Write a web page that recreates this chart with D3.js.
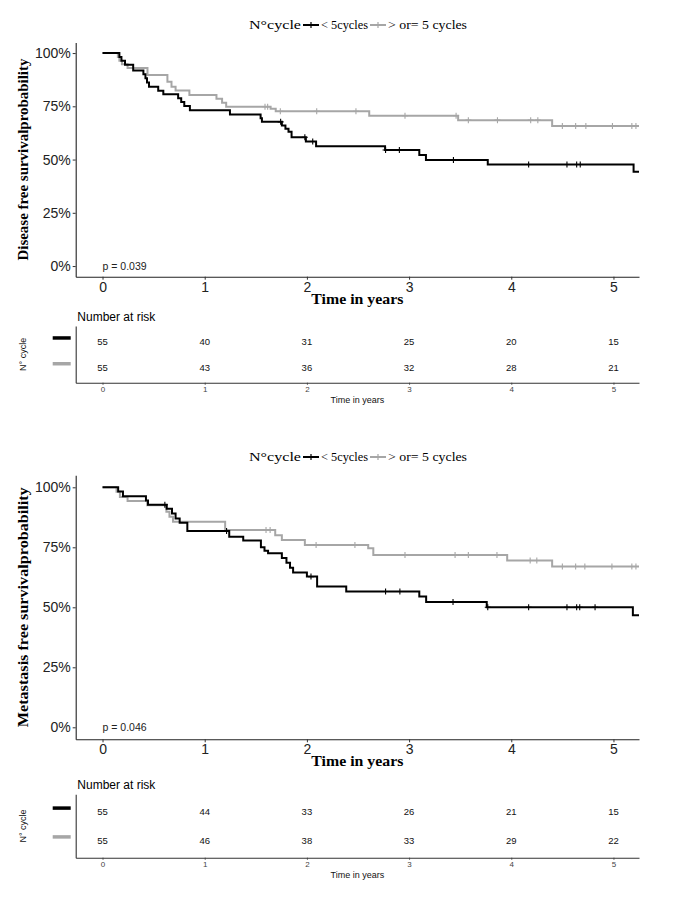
<!DOCTYPE html>
<html><head><meta charset="utf-8">
<script src="https://cdn.jsdelivr.net/npm/d3@7"></script>
<style>body{margin:0;background:#fff} svg{display:block}</style>
</head><body>
<svg id="c" width="673" height="902"></svg>
<script>
// ---------------- data ----------------
const groups = ["< 5cycles", "> or= 5 cycles"];
const legendTitle = "N°cycle";
const timeTicks = [0, 1, 2, 3, 4, 5];
const survTicks = [0, 0.25, 0.5, 0.75, 1];
const survTickLabels = ["0%", "25%", "50%", "75%", "100%"];
const timeMax = 5.25;

// Panel 1: Disease free survival
const dfsBlackTime = [0, 0.165, 0.185, 0.22, 0.30, 0.40, 0.42, 0.435, 0.455, 0.545, 0.595, 0.74, 0.77, 0.80, 0.855, 1.247, 1.547, 1.56, 1.755, 1.79, 1.82, 1.85, 1.99, 2.09, 2.765, 3.10, 3.165, 3.77, 5.197];
const dfsBlackSurv = [1, 0.982, 0.964, 0.945, 0.918, 0.900, 0.882, 0.862, 0.842, 0.823, 0.806, 0.788, 0.770, 0.751, 0.732, 0.712, 0.694, 0.677, 0.660, 0.645, 0.630, 0.605, 0.585, 0.563, 0.545, 0.521, 0.498, 0.477, 0.443];
const dfsBlackCensor = [1.743, 1.98, 2.057, 2.77, 2.905, 3.434, 4.17, 4.545, 4.64, 4.675];
const dfsGrayTime = [0, 0.15, 0.165, 0.19, 0.245, 0.44, 0.635, 0.675, 0.715, 0.85, 1.115, 1.17, 1.21, 1.645, 1.695, 2.61, 3.48, 4.40];
const dfsGraySurv = [1, 0.982, 0.964, 0.948, 0.930, 0.897, 0.865, 0.842, 0.824, 0.803, 0.785, 0.767, 0.748, 0.738, 0.727, 0.706, 0.685, 0.657];
const dfsGrayCensor = [1.59, 1.616, 1.74, 2.096, 2.48, 2.96, 3.46, 3.58, 3.865, 4.19, 4.26, 4.50, 4.63, 4.73, 4.99, 5.18, 5.22];
const dfsRiskBlack = [55, 40, 31, 25, 20, 15];
const dfsRiskGray = [55, 43, 36, 32, 28, 21];
const dfsPval = "p = 0.039";
const dfsYTitle = "Disease free survivalprobability";

// Panel 2: Metastasis free survival
const mfsBlackTime = [0, 0.153, 0.20, 0.425, 0.445, 0.628, 0.68, 0.715, 0.755, 0.83, 1.24, 1.377, 1.55, 1.585, 1.62, 1.755, 1.80, 1.835, 1.865, 2.0, 2.10, 2.385, 3.10, 3.167, 3.76, 5.19];
const mfsBlackSurv = [1, 0.982, 0.963, 0.945, 0.927, 0.911, 0.891, 0.870, 0.852, 0.818, 0.794, 0.778, 0.750, 0.736, 0.725, 0.705, 0.686, 0.665, 0.645, 0.628, 0.587, 0.566, 0.545, 0.522, 0.500, 0.467];
const mfsBlackCensor = [0.61, 1.214, 2.04, 2.77, 2.91, 3.43, 3.77, 4.17, 4.545, 4.64, 4.67, 4.82];
const mfsGrayTime = [0, 0.137, 0.17, 0.245, 0.437, 0.625, 0.655, 0.69, 1.20, 1.69, 1.755, 1.98, 2.60, 2.65, 3.96, 4.40];
const mfsGraySurv = [1, 0.981, 0.960, 0.943, 0.925, 0.898, 0.877, 0.856, 0.822, 0.800, 0.780, 0.760, 0.746, 0.718, 0.695, 0.670];
const mfsGrayCensor = [1.60, 1.64, 2.09, 2.47, 2.96, 3.45, 3.58, 3.86, 4.185, 4.25, 4.50, 4.63, 4.72, 4.985, 5.18, 5.22];
const mfsRiskBlack = [55, 44, 33, 26, 21, 15];
const mfsRiskGray = [55, 46, 38, 33, 29, 22];
const mfsPval = "p = 0.046";
const mfsYTitle = "Metastasis free survivalprobability";

// ---------------- style ----------------
const colors = ["#000000", "#a6a6a6"];
const SERIF = "'Liberation Serif','DejaVu Serif',serif";
const SANS = "'Liberation Sans',Arial,sans-serif";
const svg = d3.select("#c");

const x = d3.scaleLinear().domain([-0.2625, timeMax]).range([75.7, 639]);

function stepAt(times, surv, t) {
  let i = d3.bisectRight(times, t) - 1;
  return surv[Math.max(0, i)];
}

function drawPanel(cfg) {
  const y = d3.scaleLinear().domain([-0.05, 1.05]).range([cfg.y1, cfg.y0]);
  const g = svg.append("g");

  // legend
  const lg = g.append("g").attr("font-family", SERIF).attr("font-size", 12).attr("fill", "#000");
  const items = [
    {type: "text", txt: legendTitle, w: 52},
    {type: "key", c: colors[0]},
    {type: "text", txt: groups[0], w: 47},
    {type: "key", c: colors[1]},
    {type: "text", txt: groups[1], w: 79}
  ];
  let cx = 249;
  items.forEach(it => {
    if (it.type === "text") {
      lg.append("text").attr("x", cx).attr("y", cfg.legendY + 4).attr("textLength", it.w)
        .attr("lengthAdjust", "spacingAndGlyphs").text(it.txt);
      cx += it.w + 2;
    } else {
      lg.append("line").attr("x1", cx).attr("x2", cx + 16).attr("y1", cfg.legendY).attr("y2", cfg.legendY)
        .attr("stroke", it.c).attr("stroke-width", 2);
      lg.append("path").attr("d", `M${cx + 8},${cfg.legendY - 3}v6`).attr("stroke", it.c).attr("stroke-width", 1.2);
      cx += 18;
    }
  });

  // curves
  const clipId = "clip" + cfg.id;
  svg.append("clipPath").attr("id", clipId).append("rect")
    .attr("x", x.range()[0]).attr("y", cfg.y0 - 5).attr("width", x.range()[1] - x.range()[0]).attr("height", cfg.y1 - cfg.y0 + 5);
  const line = d3.line().x(d => x(d[0])).y(d => y(d[1])).curve(d3.curveStepAfter);
  const series = [
    {t: cfg.grayT, s: cfg.grayS, c: cfg.grayC, col: colors[1]},
    {t: cfg.blackT, s: cfg.blackS, c: cfg.blackC, col: colors[0]}
  ];
  const cg = g.append("g").attr("clip-path", `url(#${clipId})`);
  series.forEach(se => {
    const pts = se.t.map((t, i) => [t, se.s[i]]);
    pts.push([timeMax, se.s[se.s.length - 1]]);
    cg.append("path").datum(pts).attr("d", line).attr("fill", "none")
      .attr("stroke", se.col).attr("stroke-width", 2);
    cg.selectAll(null).data(se.c).enter().append("path")
      .attr("d", t => {
        const px = x(t), py = y(stepAt(se.t, se.s, t));
        return `M${px - 3},${py}h6M${px},${py - 3}v6`;
      })
      .attr("stroke", se.col).attr("stroke-width", 1.1);
  });

  // axes
  const ay = g.append("g").attr("transform", `translate(${x.range()[0]},0)`)
    .call(d3.axisLeft(y).tickValues(survTicks).tickFormat((d, i) => survTickLabels[i]).tickSize(3).tickSizeOuter(0).tickPadding(2));
  const ax = g.append("g").attr("transform", `translate(0,${cfg.y1})`)
    .call(d3.axisBottom(x).tickValues(timeTicks).tickFormat(d3.format("d")).tickSize(3).tickSizeOuter(0).tickPadding(2));
  [ax, ay].forEach(a => {
    a.select(".domain").attr("stroke", "#222").attr("stroke-width", 1.1);
    a.selectAll(".tick line").attr("stroke", "#333");
    a.selectAll("text").attr("font-family", SANS).attr("font-size", 14).attr("fill", "#222");
  });

  // p value
  g.append("text").attr("x", x(0)).attr("y", y(0) + 4).attr("font-family", SANS).attr("font-size", 10.5)
    .attr("fill", "#222").text(cfg.pval);

  // axis titles
  g.append("text").attr("transform", `translate(28,${(cfg.y0 + cfg.y1) / 2}) rotate(-90)`)
    .attr("text-anchor", "middle").attr("font-family", SERIF).attr("font-weight", "bold").attr("font-size", 14)
    .attr("textLength", cfg.yTitleLen).attr("lengthAdjust", "spacingAndGlyphs").text(cfg.yTitle);
  g.append("text").attr("x", (x.range()[0] + x.range()[1]) / 2).attr("y", cfg.y1 + 27)
    .attr("text-anchor", "middle").attr("font-family", SERIF).attr("font-weight", "bold").attr("font-size", 14)
    .attr("textLength", 92).attr("lengthAdjust", "spacingAndGlyphs").text("Time in years");

  // risk table
  const ry = d3.scalePoint().domain(groups).range([cfg.tTop, cfg.tBot]).padding(0.6);
  const tg = g.append("g");
  tg.append("text").attr("x", 77.3).attr("y", cfg.tTop - 5).attr("font-family", SANS).attr("font-size", 12)
    .attr("fill", "#000").text("Number at risk");
  tg.append("g").attr("transform", `translate(${x.range()[0]},0)`)
    .call(d3.axisLeft(ry).tickSize(0).tickFormat(""))
    .select(".domain").attr("stroke", "#333").attr("stroke-width", 1.1);
  const tax = tg.append("g").attr("transform", `translate(0,${cfg.tBot})`)
    .call(d3.axisBottom(x).tickValues(timeTicks).tickFormat(d3.format("d")).tickSize(2).tickSizeOuter(0).tickPadding(2));
  tax.select(".domain").attr("stroke", "#333").attr("stroke-width", 1.1);
  tax.selectAll("text").attr("font-family", SANS).attr("font-size", 8).attr("fill", "#444");
  tax.selectAll(".tick line").attr("stroke", "#444");
  const rows = [{g: groups[0], v: cfg.riskB, col: colors[0]}, {g: groups[1], v: cfg.riskG, col: colors[1]}];
  rows.forEach(r => {
    tg.selectAll(null).data(timeTicks).enter().append("text")
      .attr("x", d => x(d)).attr("y", ry(r.g) + 3.5).attr("text-anchor", "middle")
      .attr("font-family", SANS).attr("font-size", 9.5).attr("fill", "#111")
      .text((d, i) => r.v[i]);
    tg.append("line").attr("x1", 52.7).attr("x2", 70.7).attr("y1", ry(r.g) - 3.5).attr("y2", ry(r.g) - 3.5)
      .attr("stroke", r.col).attr("stroke-width", 3.5);
  });
  tg.append("text").attr("transform", `translate(26,${(cfg.tTop + cfg.tBot) / 2}) rotate(-90)`)
    .attr("text-anchor", "middle").attr("font-family", SANS).attr("font-size", 9).attr("fill", "#111").text("N° cycle");
  tg.append("text").attr("x", (x.range()[0] + x.range()[1]) / 2).attr("y", cfg.tBot + 20)
    .attr("text-anchor", "middle").attr("font-family", SANS).attr("font-size", 9).attr("fill", "#111").text("Time in years");
}

drawPanel({id: 1, y0: 42.4, y1: 276.7, legendY: 25, tTop: 326, tBot: 382.7,
  blackT: dfsBlackTime, blackS: dfsBlackSurv, blackC: dfsBlackCensor,
  grayT: dfsGrayTime, grayS: dfsGraySurv, grayC: dfsGrayCensor,
  riskB: dfsRiskBlack, riskG: dfsRiskGray, pval: dfsPval, yTitle: dfsYTitle, yTitleLen: 202});
drawPanel({id: 2, y0: 475.3, y1: 739.3, legendY: 457, tTop: 794.3, tBot: 857.7,
  blackT: mfsBlackTime, blackS: mfsBlackSurv, blackC: mfsBlackCensor,
  grayT: mfsGrayTime, grayS: mfsGraySurv, grayC: mfsGrayCensor,
  riskB: mfsRiskBlack, riskG: mfsRiskGray, pval: mfsPval, yTitle: mfsYTitle, yTitleLen: 240});
</script>
</body></html>
